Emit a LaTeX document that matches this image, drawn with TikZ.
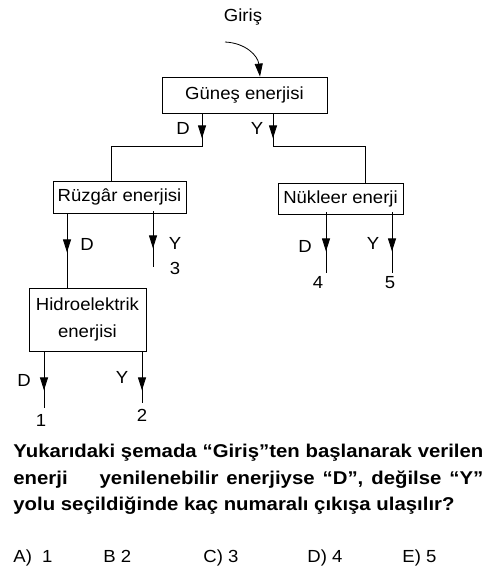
\documentclass[tikz,border=0pt]{standalone}
\usepackage{fontspec}
\setmainfont{Liberation Sans}[FakeStretch=1.06]
\newfontfamily\qfont{Liberation Sans}[FakeStretch=1.1]
\usetikzlibrary{arrows.meta,positioning,decorations.markings}

\begin{document}
\begin{tikzpicture}[x=1pt, y=-1pt, line width=0.8pt,
    every node/.style={font=\fontsize{17.5}{27}\selectfont},
    enbox/.style={rectangle, draw, inner sep=0pt, align=center},
    qline/.style={anchor=base west, inner sep=0pt, font=\fontsize{18.5}{27}\qfont\bfseries},
    flow/.style={postaction={decorate}, decoration={markings,
        mark=at position #1 with {\arrow{Triangle[width=8pt,length=13pt]}}}}]
				\useasboundingbox (0,0) rectangle (495,580);
				
				\node (giris) at (243,17) {Giriş};
				\node[enbox, minimum width=165pt, minimum height=36pt] (gunes) at (244.5,95) {Güneş enerjisi};
				\node[enbox, minimum width=133pt, minimum height=32pt] (ruzgar) at (119.5,197) {Rüzgâr enerjisi};
				\node[enbox, minimum width=125pt, minimum height=31pt] (nukleer) at (340.5,198.5) {Nükleer enerji};
				\node[enbox, minimum width=117pt, minimum height=63pt] (hidro) at (87.5,319.5) {Hidroelektrik\\enerjisi};
				
				\coordinate (girisstart) at (225,42);
				\coordinate (end3) at (153,267);
				\coordinate (end4) at (326,273);
				\coordinate (end5) at (392,273);
				\coordinate (end1) at (44,408);
				\coordinate (end2) at (142,403);
				
				% giris
				\draw[-{Triangle[width=8pt,length=13pt]}] (girisstart) .. controls (246,43) and (258,56) .. ([xshift=15.5pt]gunes.north);
				
				% gunes enerjisi
				\draw[flow=25pt] ([xshift=-42.5pt]gunes.south) -- ++(0,33) -| ([xshift=-8.5pt]ruzgar.north);
				\draw[flow=25pt] ([xshift=28.5pt]gunes.south) -- ++(0,33) -| ([xshift=24.5pt]nukleer.north);
				\node (gd) at (183,128) {D};
				\node (gy) at (257,128) {Y};
				
				% ruzgar enerjisi
				\draw[flow=39pt] ([xshift=-52.5pt]ruzgar.south) -- ([xshift=-20.5pt]hidro.north);
				\draw[flow=37pt] ([xshift=33.5pt,yshift=2pt]ruzgar.south) -- (end3);
				\node (rd) at (87,244) {D};
				\node (ry) at (175,243) {Y};
				\node (out3) at (175,268) {3};
				
				% nukleer enerji
				\draw[flow=39pt] ([xshift=-14.5pt,yshift=2pt]nukleer.south) -- (end4);
				\draw[flow=39pt] ([xshift=51.5pt,yshift=2pt]nukleer.south) -- (end5);
				\node (nd) at (305,246) {D};
				\node (ny) at (373,243) {Y};
				\node (out4) at (318,282) {4};
				\node (out5) at (390,283) {5};
				
				% hidroelektrik enerjisi
				\draw[flow=39pt] ([xshift=-43.5pt]hidro.south) -- (end1);
				\draw[flow=39pt] ([xshift=54.5pt]hidro.south) -- (end2);
				\node (hd) at (24,380) {D};
				\node (hy) at (122,377) {Y};
				\node (out1) at (41,420) {1};
				\node (out2) at (142,415) {2};
				
				% soru
				\node[qline] (q1) at (13,457) {\makebox[470pt][s]{Yukarıdaki şemada “Giriş”ten başlanarak verilen}};
				\node[qline] (q2) at (13,484) {\makebox[470pt][s]{enerji\ \ \ \ yenilenebilir enerjiyse “D”, değilse “Y”}};
				\node[qline] (q3) at (13,510) {yolu seçildiğinde kaç numaralı çıkışa ulaşılır?};
				
				\node[anchor=base west, inner sep=0pt] (ansa) at (13,562) {A)\ \ 1};
				\node[anchor=base west, inner sep=0pt] (ansb) at (103,562) {B 2};
				\node[anchor=base west, inner sep=0pt] (ansc) at (203,562) {C) 3};
				\node[anchor=base west, inner sep=0pt] (ansd) at (307,562) {D) 4};
				\node[anchor=base west, inner sep=0pt] (anse) at (402,562) {E) 5};
			\end{tikzpicture}
\end{document}
